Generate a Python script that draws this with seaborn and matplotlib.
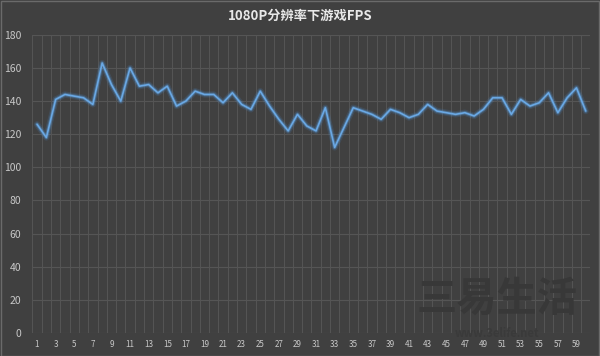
import matplotlib
matplotlib.use('Agg')
import matplotlib.pyplot as plt
import matplotlib.patheffects as pe
import seaborn as sns
import pandas as pd
import numpy as np

# 1080P 分辨率下游戏帧数（逐秒）
seconds = list(range(1, 61))
fps = [126, 118, 141, 144, 143, 142, 138, 163, 150, 140,
       160, 149, 150, 145, 149, 137, 140, 146, 144, 144,
       139, 145, 138, 135, 146, 137, 129, 122, 132, 125,
       122, 136, 112, 124, 136, 134, 132, 129, 135, 133,
       130, 132, 138, 134, 133, 132, 133, 131, 135, 142,
       142, 132, 141, 137, 139, 145, 133, 142, 148, 134]
y_ticks = [0, 20, 40, 60, 80, 100, 120, 140, 160, 180]
x_ticks = list(range(1, 60, 2))
title = '1080P分辨率下游戏FPS'

bg = '#404040'
grid_c = '#555555'
text_c = '#c8c8c8'
line_c = '#6aa8e4'

sns.set_theme(style='dark')
plt.rcParams['font.family'] = ['Noto Sans CJK SC', 'DejaVu Sans']

df = pd.DataFrame({'秒': seconds, 'FPS': fps})

fig = plt.figure(figsize=(6, 3.56), dpi=100, facecolor=bg)
ax = fig.add_axes([0.054, 0.065, 0.93, 0.837])
ax.set_facecolor(bg)

# 水印
fig.text(0.828, 0.16, '三易生活', ha='center', va='center', fontsize=29,
         fontweight='bold', color='#383838', zorder=0)
fig.text(0.828, 0.064, 'www.3elife.net', ha='center', va='center', fontsize=8,
         fontweight='bold', style='italic', color='#3a3a3a', zorder=0)

sns.lineplot(data=df, x='秒', y='FPS', ax=ax, color=line_c, linewidth=1.2,
             zorder=5)
line = ax.lines[0]
line.set_path_effects([
    pe.Stroke(linewidth=4.5, foreground='#4a86c8', alpha=0.18),
    pe.Stroke(linewidth=2.6, foreground='#5b9bd5', alpha=0.4),
    pe.Normal(),
])

ax.set_xlim(0.5, 60.5)
ax.set_ylim(0, 180)
ax.set_yticks(y_ticks)
ax.set_xticks(x_ticks)
ax.set_xticks(np.arange(0.5, 61, 1), minor=True)
ax.grid(False)
ax.yaxis.grid(True, color=grid_c, linewidth=0.8)
ax.xaxis.grid(True, which='minor', color=grid_c, linewidth=0.7)
ax.tick_params(axis='both', which='both', length=0, colors=text_c)
ax.tick_params(axis='y', labelsize=7.5, pad=8)
ax.tick_params(axis='x', labelsize=5.8, pad=5)
for s in ax.spines.values():
    s.set_visible(False)
ax.set_xlabel('')
ax.set_ylabel('')

fig.text(0.5, 0.955, title, ha='center', va='center', fontsize=9.5,
         fontweight='bold', color='#e8e8e8')

# 外框
fig.patches.append(plt.Rectangle((0.001, 0.001), 0.997, 0.996, transform=fig.transFigure,
                                 fill=False, edgecolor='#6a6a6a', linewidth=1))

fig.savefig('out.png', dpi=100, facecolor=bg)
